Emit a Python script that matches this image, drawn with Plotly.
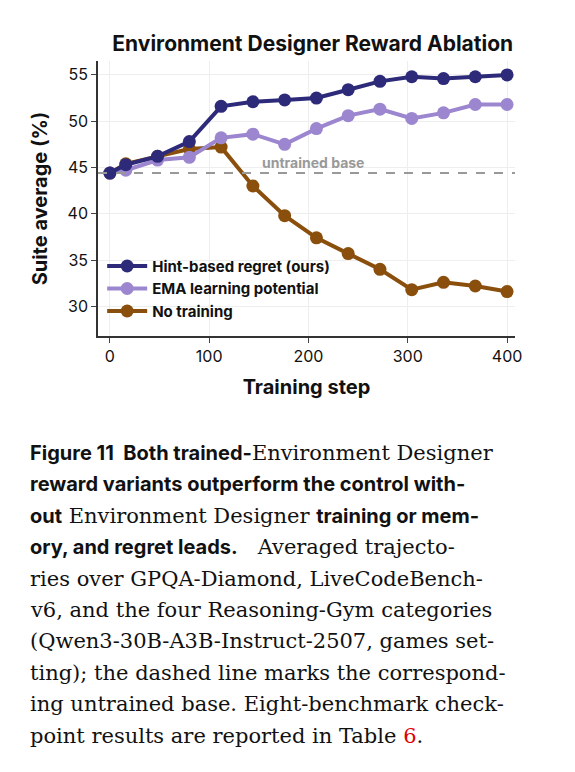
import plotly.graph_objects as go

steps = [0, 16, 48, 80, 112, 144, 176, 208, 240, 272, 304, 336, 368, 400]
hint_regret = [44.4, 45.3, 46.2, 47.8, 51.6, 52.1, 52.3, 52.5, 53.4, 54.3, 54.8, 54.6, 54.8, 55.0]
ema_potential = [44.4, 44.7, 45.8, 46.1, 48.2, 48.6, 47.5, 49.2, 50.6, 51.3, 50.3, 50.9, 51.8, 51.8]
no_training = [44.4, 45.4, 46.2, 47.0, 47.2, 43.0, 39.8, 37.4, 35.7, 34.0, 31.8, 32.6, 32.2, 31.6]
base_value = 44.4
y_ticks = [30, 35, 40, 45, 50, 55]
x_ticks = [0, 100, 200, 300, 400]

SANS = "Inter"
SERIF = "DejaVu Serif"
L, R, T, B = 90, 68, 53, 444
W, H = 575, 772

fig = go.Figure()
series = [
    ("<b>Hint-based regret (ours)</b>", hint_regret, "#2e2a7a"),
    ("<b>EMA learning potential</b>", ema_potential, "#9b86cf"),
    ("<b>No training</b>", no_training, "#8a4f0c"),
]
# no-training drawn first so trained curves sit on top
for name, vals, color in [series[2], series[1], series[0]]:
    fig.add_trace(go.Scatter(
        x=steps, y=vals, mode="lines+markers", name=name,
        line=dict(color=color, width=4),
        marker=dict(color=color, size=13),
    ))

fig.add_hline(y=base_value, line=dict(color="#999999", width=2, dash="dash"))
fig.add_annotation(x=205, y=base_value + 1.1, text="<b>untrained base</b>", showarrow=False,
                   xref="x", yref="y", font=dict(family=SANS, size=14, color="#999999"))

fig.update_layout(
    width=W, height=H,
    paper_bgcolor="white", plot_bgcolor="white",
    margin=dict(l=L, r=R, t=T, b=B),
    title=dict(text="<b>Environment Designer Reward Ablation</b>", x=0.53, xanchor="center",
               y=0.963, font=dict(family=SANS, size=21, color="#111111")),
    font=dict(family=SANS, size=15, color="#111111"),
    legend=dict(x=0.01, y=0.03, xanchor="left", yanchor="bottom", bgcolor="rgba(0,0,0,0)",
                traceorder="reversed", font=dict(family=SANS, size=15, color="#111111"),
                tracegroupgap=0, itemwidth=40),
)
fig.update_xaxes(range=[-12, 408], tickvals=x_ticks, showgrid=True, gridcolor="#eeeeee",
                 showline=True, linecolor="#333333", linewidth=1.5, ticks="outside", ticklen=5,
                 title=dict(text="<b>Training step</b>", font=dict(size=20)),
                 tickfont=dict(size=16), zeroline=False)
fig.update_yaxes(range=[26.8, 56.5], tickvals=y_ticks, showgrid=True, gridcolor="#eeeeee",
                 showline=True, linecolor="#333333", linewidth=1.5, ticks="outside", ticklen=5,
                 title=dict(text="<b>Suite average (%)</b>", font=dict(size=20)),
                 tickfont=dict(size=16), zeroline=False)


def sans(t):
    return f'<span style="font-family:{SANS};font-size:20px"><b>{t}</b></span>'


caption = [
    sans("Figure 11  Both trained-") + "Environment Designer",
    sans("reward variants outperform the control with-"),
    sans("out") + " Environment Designer " + sans("training or mem-"),
    sans("ory, and regret leads.") + "   Averaged trajecto-",
    "ries over GPQA-Diamond, LiveCodeBench-",
    "v6, and the four Reasoning-Gym categories",
    "(Qwen3-30B-A3B-Instruct-2507, games set-",
    "ting); the dashed line marks the correspond-",
    "ing untrained base. Eight-benchmark check-",
    'point results are reported in Table <span style="color:#e00000">6</span>.',
]
pw, ph = W - L - R, H - T - B
for i, line in enumerate(caption):
    px, py = 20, H - 445 - i * 31.4
    fig.add_annotation(x=(px - L) / pw, y=(py - B) / ph, xref="paper", yref="paper", text=line,
                       showarrow=False, xanchor="left", yanchor="middle",
                       font=dict(family=SERIF, size=21, color="#111111"))

fig.write_html("out.html")
